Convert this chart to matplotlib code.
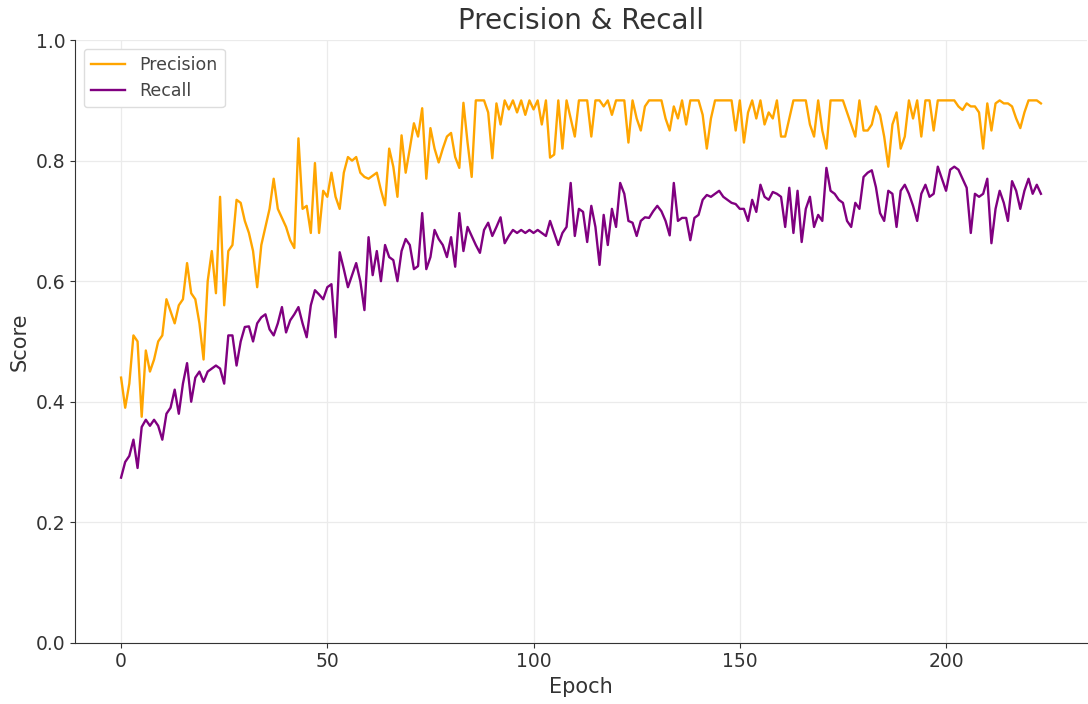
import numpy as np
import matplotlib
matplotlib.use("Agg")
import matplotlib.pyplot as plt

# per-epoch validation scores
precision = [
    0.44, 0.39, 0.43, 0.51, 0.50, 0.375, 0.485, 0.45, 0.47, 0.50,
    0.51, 0.57, 0.55, 0.53, 0.56, 0.57, 0.63, 0.58, 0.57, 0.53,
    0.47, 0.60, 0.65, 0.58, 0.74, 0.56, 0.65, 0.66, 0.735, 0.73,
    0.70, 0.68, 0.65, 0.59, 0.66, 0.69, 0.72, 0.77, 0.72, 0.705,
    0.69, 0.668, 0.655, 0.837, 0.72, 0.725, 0.68, 0.796, 0.68, 0.75,
    0.74, 0.78, 0.74, 0.72, 0.78, 0.806, 0.80, 0.806, 0.78, 0.773,
    0.77, 0.775, 0.78, 0.751, 0.726, 0.82, 0.79, 0.74, 0.842, 0.78,
    0.82, 0.862, 0.84, 0.887, 0.77, 0.854, 0.82, 0.797, 0.82, 0.84,
    0.846, 0.806, 0.788, 0.896, 0.83, 0.773, 0.90, 0.90, 0.90, 0.88,
    0.804, 0.895, 0.86, 0.90, 0.885, 0.90, 0.88, 0.90, 0.876, 0.90,
    0.885, 0.90, 0.86, 0.90, 0.805, 0.81, 0.90, 0.82, 0.90, 0.87,
    0.84, 0.90, 0.90, 0.90, 0.84, 0.90, 0.90, 0.89, 0.90, 0.876,
    0.90, 0.90, 0.90, 0.83, 0.90, 0.87, 0.85, 0.89, 0.90, 0.90,
    0.90, 0.90, 0.87, 0.85, 0.89, 0.87, 0.90, 0.86, 0.90, 0.90,
    0.90, 0.876, 0.82, 0.87, 0.90, 0.90, 0.90, 0.90, 0.90, 0.85,
    0.90, 0.83, 0.88, 0.90, 0.87, 0.90, 0.86, 0.88, 0.87, 0.90,
    0.84, 0.84, 0.87, 0.90, 0.90, 0.90, 0.90, 0.86, 0.84, 0.90,
    0.85, 0.82, 0.90, 0.90, 0.90, 0.90, 0.88, 0.86, 0.84, 0.90,
    0.85, 0.85, 0.86, 0.89, 0.876, 0.84, 0.79, 0.86, 0.88, 0.82,
    0.84, 0.90, 0.87, 0.90, 0.84, 0.90, 0.90, 0.85, 0.90, 0.90,
    0.90, 0.90, 0.90, 0.89, 0.884, 0.895, 0.89, 0.89, 0.88, 0.82,
    0.895, 0.85, 0.895, 0.90, 0.895, 0.895, 0.89, 0.87, 0.854, 0.88,
    0.90, 0.90, 0.90, 0.895,
]

recall = [
    0.274, 0.30, 0.31, 0.337, 0.29, 0.358, 0.37, 0.36, 0.37, 0.36,
    0.337, 0.38, 0.39, 0.42, 0.38, 0.43, 0.464, 0.40, 0.44, 0.45,
    0.433, 0.45, 0.455, 0.46, 0.455, 0.43, 0.51, 0.51, 0.46, 0.50,
    0.524, 0.525, 0.50, 0.53, 0.54, 0.545, 0.52, 0.51, 0.53, 0.557,
    0.515, 0.535, 0.545, 0.557, 0.53, 0.507, 0.56, 0.585, 0.578, 0.57,
    0.59, 0.595, 0.507, 0.648, 0.62, 0.59, 0.61, 0.63, 0.60, 0.552,
    0.673, 0.61, 0.65, 0.60, 0.66, 0.64, 0.635, 0.60, 0.65, 0.67,
    0.66, 0.62, 0.625, 0.713, 0.62, 0.64, 0.685, 0.67, 0.66, 0.64,
    0.673, 0.624, 0.713, 0.65, 0.69, 0.675, 0.66, 0.647, 0.685, 0.697,
    0.675, 0.69, 0.706, 0.663, 0.675, 0.685, 0.68, 0.685, 0.68, 0.685,
    0.68, 0.685, 0.68, 0.675, 0.70, 0.68, 0.66, 0.68, 0.69, 0.763,
    0.675, 0.72, 0.715, 0.665, 0.725, 0.69, 0.627, 0.71, 0.66, 0.72,
    0.69, 0.763, 0.745, 0.70, 0.697, 0.675, 0.70, 0.706, 0.705, 0.716,
    0.725, 0.716, 0.70, 0.676, 0.763, 0.70, 0.705, 0.705, 0.668, 0.705,
    0.71, 0.735, 0.743, 0.74, 0.745, 0.75, 0.74, 0.735, 0.73, 0.728,
    0.72, 0.72, 0.70, 0.735, 0.715, 0.76, 0.74, 0.735, 0.748, 0.745,
    0.74, 0.69, 0.755, 0.68, 0.75, 0.665, 0.72, 0.74, 0.69, 0.71,
    0.70, 0.788, 0.75, 0.745, 0.735, 0.73, 0.70, 0.69, 0.73, 0.72,
    0.773, 0.78, 0.784, 0.756, 0.713, 0.70, 0.75, 0.745, 0.69, 0.75,
    0.76, 0.745, 0.725, 0.70, 0.745, 0.76, 0.74, 0.745, 0.79, 0.77,
    0.75, 0.785, 0.79, 0.785, 0.77, 0.755, 0.68, 0.745, 0.74, 0.745,
    0.77, 0.663, 0.72, 0.75, 0.73, 0.70, 0.766, 0.75, 0.72, 0.75,
    0.77, 0.745, 0.76, 0.745,
]

epochs = np.arange(len(precision))

fig = plt.figure(figsize=(10.88, 7.04), dpi=100)
ax = fig.add_axes([0.069, 0.087, 0.93, 0.856])

ax.plot(epochs, precision, color="orange", lw=1.7, label="Precision")
ax.plot(epochs, recall, color="purple", lw=1.7, label="Recall")

ax.set_ylim(0, 1.0)
ax.set_title("Precision & Recall", fontsize=20, color="#333333", pad=8)
ax.set_xlabel("Epoch", fontsize=15, color="#333333")
ax.set_ylabel("Score", fontsize=15, color="#333333")
ax.tick_params(labelsize=13.5, colors="#333333")

ax.grid(True, color="#ebebeb", lw=0.9)
ax.set_axisbelow(True)
for side in ("top", "right"):
    ax.spines[side].set_visible(False)
for side in ("left", "bottom"):
    ax.spines[side].set_color("#333333")

leg = ax.legend(loc="upper left", fontsize=12.5, framealpha=1)
leg.get_frame().set_edgecolor("#dddddd")
for t in leg.get_texts():
    t.set_color("#444444")

fig.savefig("out.png", dpi=100)
